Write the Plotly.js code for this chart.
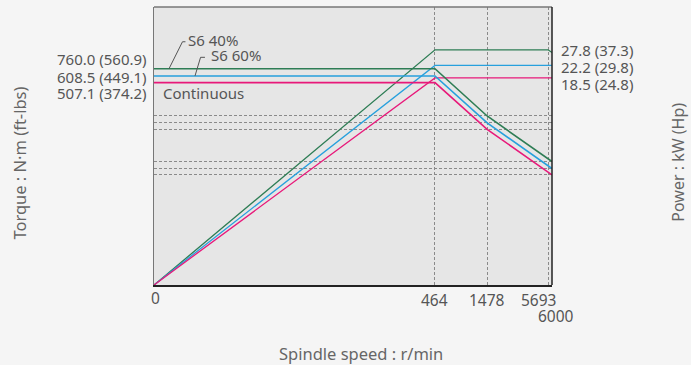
<!DOCTYPE html>
<html>
<head>
<meta charset="utf-8">
<script src="https://cdn.plot.ly/plotly-3.0.1.min.js"></script>
<style>
  html, body { margin: 0; padding: 0; background: #f5f5f5; }
  #chart { width: 691px; height: 365px; }
</style>
</head>
<body>
<div id="chart"></div>
<script>
// ---- speed scale (schematic, non-linear axis of the diagram) ----
const speedBreaks = [0, 464, 1478, 5693, 6000];
const speedStops  = [0, 0.706, 0.837, 0.990, 1.0];
const speedTickLabels = ['0', '464', '1478', '5693', '6000'];

// ---- series (schematic levels, 0-100 diagram units) ----
const seriesNames = ['S6 40%', 'S6 60%', 'Continuous'];

const torqueRpm  = [0, 464, 1478, 6000];
const torqueS640 = [77.8, 77.8, 60.8, 44.4];
const torqueS660 = [75.2, 75.2, 58.3, 41.9];
const torqueCont = [72.8, 72.8, 56.0, 39.6];

const powerRpm  = [0, 464, 5693, 6000];
const powerS640 = [0, 84.6, 84.6, 83.6];
const powerS660 = [0, 79.0, 79.0, 79.0];
const powerCont = [0, 74.5, 74.5, 74.5];

const torqueLabels = ['760.0 (560.9)', '608.5 (449.1)', '507.1 (374.2)'];
const powerLabels  = ['27.8 (37.3)', '22.2 (29.8)', '18.5 (24.8)'];

const xTitle = 'Spindle speed : r/min';
const yTitleLeft = 'Torque : N·m (ft-lbs)';
const yTitleRight = 'Power : kW (Hp)';

// ---- styling ----
const colors = ['#2e7d55', '#27a0dd', '#e8197a'];
const labelColor = '#555555';
const FONT = 'Noto Sans, Open Sans, sans-serif';

function speedScale(r) {
  for (let i = 1; i < speedBreaks.length; i++) {
    if (r <= speedBreaks[i]) {
      const t = (r - speedBreaks[i-1]) / (speedBreaks[i] - speedBreaks[i-1]);
      return speedStops[i-1] + t * (speedStops[i] - speedStops[i-1]);
    }
  }
  return speedStops[speedStops.length - 1];
}

const torqueSeries = [torqueS640, torqueS660, torqueCont];
const powerSeries = [powerS640, powerS660, powerCont];

const traces = [];
powerSeries.forEach((s, i) => {
  traces.push({
    x: powerRpm.map(speedScale), y: s, mode: 'lines', type: 'scatter',
    line: {color: colors[i], width: 1.3}, hoverinfo: 'skip', showlegend: false,
    name: seriesNames[i] + ' power'
  });
});
torqueSeries.forEach((s, i) => {
  traces.push({
    x: torqueRpm.map(speedScale), y: s, mode: 'lines', type: 'scatter',
    line: {color: colors[i], width: 1.6}, hoverinfo: 'skip', showlegend: false,
    name: seriesNames[i] + ' torque'
  });
});

const xGrid = speedBreaks.slice(1, 4).map(speedScale);
const yGrid = torqueSeries.map(s => s[2]).concat(torqueSeries.map(s => s[3]));

const annotations = [];
// x tick labels
const tickShift = [1, 0, 0, -10, 4];
const tickY = [-0.045, -0.055, -0.055, -0.055, -0.11];
speedTickLabels.forEach((t, i) => {
  annotations.push({
    text: t, x: speedScale(speedBreaks[i]), xref: 'x', y: tickY[i], yref: 'paper',
    xanchor: 'center', yanchor: 'middle', showarrow: false, xshift: tickShift[i],
    font: {family: FONT, size: 15.5, color: labelColor}
  });
});
// torque labels (left)
const tLabY = [0.813, 0.750, 0.692];
torqueLabels.forEach((t, i) => {
  annotations.push({
    text: t, x: -0.013, xref: 'paper', y: tLabY[i], yref: 'paper',
    xanchor: 'right', yanchor: 'middle', showarrow: false,
    font: {family: FONT, size: 15, color: labelColor}
  });
});
// power labels (right)
const pLabY = [0.845, 0.783, 0.723];
powerLabels.forEach((t, i) => {
  annotations.push({
    text: t, x: 1.018, xref: 'paper', y: pLabY[i], yref: 'paper',
    xanchor: 'left', yanchor: 'middle', showarrow: false,
    font: {family: FONT, size: 15, color: labelColor}
  });
});
// series labels
const nameX = [0.080, 0.138, 0.017];
const nameY = [0.881, 0.826, 0.692];
seriesNames.forEach((t, i) => {
  annotations.push({
    text: t, x: nameX[i], xref: 'paper', y: nameY[i], yref: 'paper',
    xanchor: 'left', yanchor: 'middle', showarrow: false,
    font: {family: FONT, size: 15, color: labelColor}
  });
});
// axis titles
annotations.push({text: xTitle, x: 0.52, xref: 'paper', y: -0.245, yref: 'paper',
  showarrow: false, xanchor: 'center', yanchor: 'middle',
  font: {family: FONT, size: 16.5, color: '#666666'}});
annotations.push({text: yTitleLeft, x: -0.337, xref: 'paper', y: 0.44, yref: 'paper',
  showarrow: false, textangle: -90, xanchor: 'center', yanchor: 'middle',
  font: {family: FONT, size: 16.5, color: '#666666'}});
annotations.push({text: yTitleRight, x: 1.318, xref: 'paper', y: 0.442, yref: 'paper',
  showarrow: false, textangle: -90, xanchor: 'center', yanchor: 'middle',
  font: {family: FONT, size: 16, color: '#666666'}});

const shapes = [
  // top and right frame
  {type: 'line', xref: 'paper', yref: 'paper', x0: 0, x1: 1, y0: 1, y1: 1, line: {color: '#777777', width: 1.5}},
  {type: 'line', xref: 'paper', yref: 'paper', x0: 1, x1: 1, y0: 0, y1: 1, line: {color: '#222222', width: 1.5}},
  // leader lines
  {type: 'path', xref: 'paper', yref: 'y', path: '', line: {color: '#555555', width: 1}},
  {type: 'path', xref: 'paper', yref: 'y', path: '', line: {color: '#555555', width: 1}}
];
shapes[2].path = 'M 0.0377 ' + torqueS640[0] + ' L 0.0716 87.5 L 0.079 87.5';
shapes[3].path = 'M 0.103 ' + torqueS660[0] + ' L 0.117 81.9 L 0.128 81.9';

const layout = {
  width: 691, height: 365,
  margin: {l: 154, r: 139, t: 7, b: 80, pad: 0},
  paper_bgcolor: '#f5f5f5', plot_bgcolor: '#e6e6e6',
  font: {family: FONT, color: labelColor},
  xaxis: {
    range: [0, 1], tickvals: xGrid, showticklabels: false, ticks: '',
    showgrid: true, gridcolor: '#8a8a8a', gridwidth: 1, griddash: '3px,2px',
    zeroline: false, showline: true, linecolor: '#222222', linewidth: 1.5, fixedrange: true
  },
  yaxis: {
    range: [0, 100], tickvals: yGrid, showticklabels: false, ticks: '',
    showgrid: true, gridcolor: '#8a8a8a', gridwidth: 1, griddash: '3px,2px',
    zeroline: false, showline: true, linecolor: '#777777', linewidth: 1.5, fixedrange: true
  },
  annotations: annotations,
  shapes: shapes
};

Plotly.newPlot('chart', traces, layout, {staticPlot: true, displayModeBar: false});
</script>
</body>
</html>
